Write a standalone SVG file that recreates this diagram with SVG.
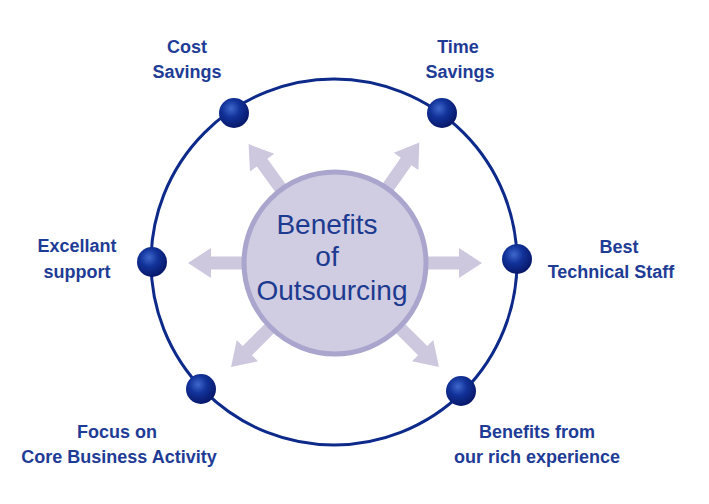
<svg xmlns="http://www.w3.org/2000/svg" width="709" height="504" viewBox="0 0 709 504">
<defs>
<radialGradient id="ball" cx="0.4" cy="0.35" r="0.65">
<stop offset="0" stop-color="#3f68cc"/>
<stop offset="0.45" stop-color="#12339a"/>
<stop offset="1" stop-color="#08186a"/>
</radialGradient>
<path id="arr" d="M88,-6.5 L124,-6.5 L124,-15 L147,0 L124,15 L124,6.5 L88,6.5 Z"/>
</defs>
<style>
.lbl{font-family:"Liberation Sans",Arial,sans-serif;font-size:18px;font-weight:bold;fill:#1e3c96;text-anchor:middle}
.ctr{font-family:"Liberation Sans",Arial,sans-serif;font-size:28px;fill:#1c3a8f;text-anchor:middle}
.arrow{fill:#cdc8de}
.ball{fill:url(#ball)}
</style>
<rect width="709" height="504" fill="#ffffff"/>
<g id="connectors">
<circle cx="334" cy="262" r="183" fill="none" stroke="#0d2a8a" stroke-width="3"/>
<g transform="translate(335,263)">
<use href="#arr" class="arrow" transform="rotate(-126)"/>
<use href="#arr" class="arrow" transform="rotate(-55)"/>
<use href="#arr" class="arrow" transform="rotate(180)"/>
<use href="#arr" class="arrow" transform="rotate(0)"/>
<use href="#arr" class="arrow" transform="rotate(135)"/>
<use href="#arr" class="arrow" transform="rotate(45)"/>
</g>
</g>
<g id="center">
<circle cx="335" cy="263" r="91" fill="#d0cce2" stroke="#aaa5cd" stroke-width="5"/>
<text class="ctr" x="327" y="234">Benefits</text>
<text class="ctr" x="327" y="266">of</text>
<text class="ctr" x="332" y="300">Outsourcing</text>
</g>
<g id="cost">
<circle class="ball" cx="234" cy="113" r="15"/>
<text class="lbl" x="187" y="53">Cost</text>
<text class="lbl" x="187" y="78">Savings</text>
</g>
<g id="time">
<circle class="ball" cx="442" cy="113" r="15"/>
<text class="lbl" x="458" y="53">Time</text>
<text class="lbl" x="460" y="78">Savings</text>
</g>
<g id="excellant">
<circle class="ball" cx="152" cy="262" r="15"/>
<text class="lbl" x="77" y="252">Excellant</text>
<text class="lbl" x="77" y="278">support</text>
</g>
<g id="best">
<circle class="ball" cx="517" cy="259" r="15"/>
<text class="lbl" x="619" y="253">Best</text>
<text class="lbl" x="611" y="278">Technical Staff</text>
</g>
<g id="focus">
<circle class="ball" cx="201" cy="389" r="15"/>
<text class="lbl" x="117" y="438">Focus on</text>
<text class="lbl" x="119" y="463">Core Business Activity</text>
</g>
<g id="experience">
<circle class="ball" cx="461" cy="391" r="15"/>
<text class="lbl" x="537" y="438">Benefits from</text>
<text class="lbl" x="537" y="463">our rich experience</text>
</g>
</svg>
